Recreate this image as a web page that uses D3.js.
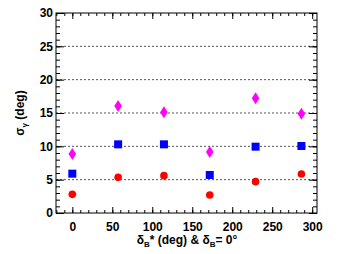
<!DOCTYPE html>
<html><head><meta charset="utf-8">
<script src="https://cdn.jsdelivr.net/npm/d3@7"></script>
<style>body{margin:0;background:#fff}svg{display:block}text{font-family:"Liberation Sans",Arial,sans-serif;font-weight:bold}</style>
</head><body>
<script>
const xVals = [0, 57.3, 114.6, 171.9, 229.2, 286.5];
const redCircles = [2.8, 5.35, 5.6, 2.7, 4.7, 5.85];
const blueSquares = [5.9, 10.3, 10.3, 5.7, 9.95, 10.05];
const magentaDiamonds = [8.85, 16.05, 15.1, 9.15, 17.2, 14.9];
const xTicks = [0, 50, 100, 150, 200, 250, 300];
const yTicks = [0, 5, 10, 15, 20, 25, 30];
const gridVals = [5, 10, 15, 20, 25];

const W = 353, H = 254;
const L = 56, R = 317, T = 13, B = 213;
const svg = d3.select("body").append("svg").attr("width", W).attr("height", H);
const x = d3.scaleLinear().domain([-20.4, 306]).range([L, R]);
const y = d3.scaleLinear().domain([0, 30]).range([B, T]);

// grid
svg.append("g").selectAll("line").data(gridVals).join("line")
  .attr("x1", L).attr("x2", R).attr("y1", d => y(d)).attr("y2", d => y(d))
  .attr("stroke", "#555").attr("stroke-width", 1).attr("stroke-dasharray", "2,2");

// axes
const xMinor = d3.range(-20, 307, 10);
const yMinor = d3.range(0, 31, 1);
const gx = svg.append("g").attr("transform", `translate(0,${B})`);
gx.call(d3.axisBottom(x).tickValues(xMinor).tickSize(-3).tickFormat(""));
gx.call(g => g.select(".domain").remove());
const gx2 = svg.append("g").attr("transform", `translate(0,${B})`)
  .call(d3.axisBottom(x).tickValues(xTicks).tickSize(-6).tickPadding(9).tickFormat(d3.format("d")));
gx2.select(".domain").remove();
gx2.selectAll("text").attr("font-size", 12).attr("dy", "0.71em").attr("fill", "#000");
const gxt = svg.append("g").attr("transform", `translate(0,${T})`)
  .call(d3.axisTop(x).tickValues(xMinor).tickSize(-3).tickFormat(""));
gxt.select(".domain").remove();
const gxt2 = svg.append("g").attr("transform", `translate(0,${T})`)
  .call(d3.axisTop(x).tickValues(xTicks).tickSize(-6).tickFormat(""));
gxt2.select(".domain").remove();

const gy = svg.append("g").attr("transform", `translate(${L},0)`)
  .call(d3.axisLeft(y).tickValues(yMinor).tickSize(-4).tickFormat(""));
gy.select(".domain").remove();
const gy2 = svg.append("g").attr("transform", `translate(${L},0)`)
  .call(d3.axisLeft(y).tickValues(yTicks).tickSize(-8).tickPadding(3).tickFormat(d3.format("d")));
gy2.select(".domain").remove();
gy2.selectAll("text").attr("font-size", 12).attr("fill", "#000").attr("x", -3);
const gyr = svg.append("g").attr("transform", `translate(${R},0)`)
  .call(d3.axisRight(y).tickValues(yMinor).tickSize(-4).tickFormat(""));
gyr.select(".domain").remove();
const gyr2 = svg.append("g").attr("transform", `translate(${R},0)`)
  .call(d3.axisRight(y).tickValues(yTicks).tickSize(-8).tickFormat(""));
gyr2.select(".domain").remove();
svg.selectAll(".tick line").attr("stroke", "#000");

svg.append("rect").attr("x", L).attr("y", T).attr("width", R - L).attr("height", B - T)
  .attr("fill", "none").attr("stroke", "#000").attr("stroke-width", 1);

// markers
svg.append("g").selectAll("circle").data(xVals).join("circle")
  .attr("cx", d => x(d)).attr("cy", (d, i) => y(redCircles[i])).attr("r", 3.8).attr("fill", "#ff0000");
svg.append("g").selectAll("rect").data(xVals).join("rect")
  .attr("x", d => x(d) - 4).attr("y", (d, i) => y(blueSquares[i]) - 4).attr("width", 8).attr("height", 8).attr("fill", "#0000ff");
svg.append("g").selectAll("path").data(xVals).join("path")
  .attr("transform", (d, i) => `translate(${x(d)},${y(magentaDiamonds[i])})`)
  .attr("d", "M0,-6L3.8,0L0,6L-3.8,0Z").attr("fill", "#ff00ff");

// labels
const xl = svg.append("text").attr("x", 187).attr("y", 244).attr("text-anchor", "middle").attr("font-size", 12);
xl.append("tspan").text("δ");
xl.append("tspan").text("B").attr("font-size", 8).attr("dy", 3);
xl.append("tspan").text("* (deg) &  δ").attr("dy", -3);
xl.append("tspan").text("B").attr("font-size", 8).attr("dy", 3);
xl.append("tspan").text("= 0°").attr("dy", -3);

const yl = svg.append("text").attr("transform", "translate(24,113) rotate(-90)").attr("text-anchor", "middle").attr("font-size", 12);
yl.append("tspan").text("σ");
yl.append("tspan").text("γ").attr("font-size", 8).attr("dy", 3);
yl.append("tspan").text(" (deg)").attr("dy", -3);
</script>
</body></html>
